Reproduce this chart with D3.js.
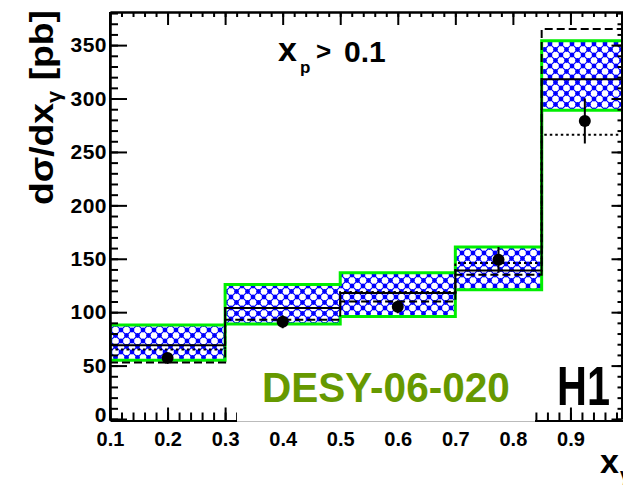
<!DOCTYPE html>
<html><head><meta charset="utf-8">
<script src="https://cdn.jsdelivr.net/npm/d3@7"></script>
<style>body{margin:0;background:#fff}svg{display:block}</style>
</head><body><svg id="c" width="623" height="491"></svg>
<script>
// ---- data ----
const binEdges   = [0.1, 0.3, 0.5, 0.7, 0.85, 1.0];
const dataX      = [0.2, 0.4, 0.6, 0.775, 0.925];
const dataY      = [57, 91, 105, 149, 279];
const dataErr    = [4, 6, 6, 12, 21];
const bandLow    = [55, 89, 96, 121, 289];
const bandHigh   = [88, 126, 137, 161, 354];
const solidLine  = [69, 104, 118, 139, 318];
const dottedLine = [65, 104, 119, 146, 266];
const dashedLine = [53, 93, 110, 135, 365];
const xMajorTicks = [0.1, 0.2, 0.3, 0.4, 0.5, 0.6, 0.7, 0.8, 0.9];
const yMajorTicks = [0, 50, 100, 150, 200, 250, 300, 350];
const xMinorStep = 0.02, yMinorStep = 10;

const svg = d3.select("#c");
const L = 110, T = 12, B = 420.5, R = 621.5;
const x = d3.scaleLinear().domain([0.1, 1.0]).range([110, 628]);
const y = d3.scaleLinear().domain([0, 381]).range([419, 12]);

// hatch pattern
const defs = svg.append("defs");
const pat = defs.append("pattern").attr("id", "hatch").attr("patternUnits", "userSpaceOnUse")
  .attr("width", 11).attr("height", 11);
pat.append("rect").attr("width", 11).attr("height", 11).attr("fill", "#fff");
pat.append("path").attr("d", "M0,0L11,11M11,0L0,11").attr("stroke", "#0000ff").attr("stroke-width", 1.2);
[[0,0],[11,0],[0,11],[11,11],[5.5,5.5]].forEach(p =>
  pat.append("circle").attr("cx", p[0]).attr("cy", p[1]).attr("r", 2.4).attr("fill", "#0000ff"));
defs.append("clipPath").attr("id", "clip").append("rect")
  .attr("x", L).attr("y", T).attr("width", R - L).attr("height", B - T);

const plot = svg.append("g").attr("clip-path", "url(#clip)");
const bins = d3.range(binEdges.length - 1);

// hatched band
plot.selectAll("rect.band").data(bins).join("rect").attr("class", "band")
  .attr("x", i => x(binEdges[i])).attr("width", i => x(binEdges[i + 1]) - x(binEdges[i]))
  .attr("y", i => y(bandHigh[i])).attr("height", i => y(bandLow[i]) - y(bandHigh[i]))
  .attr("fill", "url(#hatch)");

function stepPts(vals) {
  const pts = [];
  vals.forEach((v, i) => { pts.push([binEdges[i], v]); pts.push([binEdges[i + 1], v]); });
  return pts;
}
const line = d3.line().x(d => x(d[0])).y(d => y(d[1]));

// green band edges
const g0 = [[binEdges[0], bandLow[0]], [binEdges[0], bandHigh[0]]];
plot.append("path").attr("d", line(g0)).attr("fill", "none").attr("stroke", "#00ee00").attr("stroke-width", 3);
plot.append("path").attr("d", line(stepPts(bandHigh))).attr("fill", "none").attr("stroke", "#00ee00").attr("stroke-width", 3);
plot.append("path").attr("d", line(stepPts(bandLow))).attr("fill", "none").attr("stroke", "#00ee00").attr("stroke-width", 3);

// theory lines
plot.append("path").attr("d", line(stepPts(solidLine))).attr("fill", "none").attr("stroke", "#000").attr("stroke-width", 2);
plot.append("path").attr("d", line(stepPts(dottedLine))).attr("fill", "none").attr("stroke", "#000").attr("stroke-width", 2).attr("stroke-dasharray", "2.5,3");
plot.append("path").attr("d", line(stepPts(dashedLine))).attr("fill", "none").attr("stroke", "#000").attr("stroke-width", 2).attr("stroke-dasharray", "8,4");

// data
plot.selectAll("line.err").data(bins).join("line").attr("class", "err")
  .attr("x1", i => x(dataX[i])).attr("x2", i => x(dataX[i]))
  .attr("y1", i => y(dataY[i] - dataErr[i])).attr("y2", i => y(dataY[i] + dataErr[i]))
  .attr("stroke", "#000").attr("stroke-width", 2);
plot.selectAll("circle.pt").data(bins).join("circle").attr("class", "pt")
  .attr("cx", i => x(dataX[i])).attr("cy", i => y(dataY[i])).attr("r", 6).attr("fill", "#000");

// axes
const xMinor = d3.range(0.1, 1.0001, xMinorStep);
const yMinor = d3.range(0, 381, yMinorStep);
const fmtX = d3.format(".1f");
const axStyle = g => { g.select(".domain").attr("stroke-width", 2); g.selectAll(".tick line").attr("stroke-width", 2); };
const FF = "Liberation Sans, Arial, sans-serif";

svg.append("g").attr("transform", `translate(0,${B})`)
  .call(d3.axisBottom(x).tickValues(xMinor).tickSize(-8).tickSizeOuter(0).tickFormat(""))
  .call(axStyle);
const xb = svg.append("g").attr("transform", `translate(0,${B})`)
  .call(d3.axisBottom(x).tickValues(xMajorTicks).tickSize(-13).tickSizeOuter(0).tickPadding(11).tickFormat(fmtX))
  .call(axStyle);
xb.select(".domain").remove();
xb.selectAll("text").attr("font-family", FF).attr("font-size", 20).attr("font-weight", "bold").attr("fill", "#000");

svg.append("g").attr("transform", `translate(0,${T})`)
  .call(d3.axisTop(x).tickValues(xMinor).tickSize(-5).tickSizeOuter(0).tickFormat("")).call(axStyle);
svg.append("g").attr("transform", `translate(0,${T})`)
  .call(d3.axisTop(x).tickValues(xMajorTicks).tickSize(-13).tickSizeOuter(0).tickFormat("")).call(axStyle);

svg.append("g").attr("transform", `translate(${L},0)`)
  .call(d3.axisLeft(y).tickValues(yMinor).tickSize(-8).tickSizeOuter(0).tickFormat("")).call(axStyle);
const yl = svg.append("g").attr("transform", `translate(${L},0)`)
  .call(d3.axisLeft(y).tickValues(yMajorTicks).tickSize(-17).tickSizeOuter(0).tickPadding(3)).call(axStyle);
yl.selectAll("text").attr("font-family", FF).attr("font-size", 21).attr("font-weight", "bold").attr("letter-spacing", "0.5").attr("fill", "#000");
yl.selectAll(".tick").filter(d => d === 0).select("text").attr("dy", "0.1em");
svg.append("line").attr("x1", L).attr("x2", L).attr("y1", T).attr("y2", B).attr("stroke", "#000").attr("stroke-width", 2);

svg.append("g").attr("transform", `translate(${R},0)`)
  .call(d3.axisRight(y).tickValues(yMinor).tickSize(-4).tickSizeOuter(0).tickFormat("")).call(axStyle);
svg.append("g").attr("transform", `translate(${R},0)`)
  .call(d3.axisRight(y).tickValues(yMajorTicks).tickSize(-10).tickSizeOuter(0).tickFormat("")).call(axStyle);

// label box covering part of the bottom axis
svg.append("rect").attr("x", 237).attr("y", 366).attr("width", 298).attr("height", 55.5).attr("fill", "#fff");
svg.append("line").attr("x1", 237).attr("x2", 535).attr("y1", 421.5).attr("y2", 421.5).attr("stroke", "#bbb").attr("stroke-width", 1);

svg.append("text").attr("transform", "translate(262,402) scale(0.965,1)").attr("font-family", FF).attr("font-weight", "bold")
  .attr("font-size", 42).attr("fill", "#669900")
  .text("DESY-06-020");
svg.append("text").attr("transform", "translate(557,405) scale(0.74,1)").attr("font-family", FF).attr("font-weight", "bold")
  .attr("font-size", 56).attr("fill", "#000")
  .text("H1");

// x_p > 0.1
const t1 = svg.append("text").attr("font-family", FF).attr("font-weight", "bold").attr("fill", "#000");
t1.append("tspan").attr("x", 278).attr("y", 61).attr("font-size", 34).text("x");
t1.append("tspan").attr("x", 300).attr("y", 73).attr("font-size", 17).text("p");
t1.append("tspan").attr("x", 316).attr("y", 60).attr("font-size", 26).text(">");
t1.append("tspan").attr("x", 344).attr("y", 62).attr("font-size", 30).text("0.1");

// y title
const yt = svg.append("text").attr("transform", "translate(53,205) rotate(-90)")
  .attr("font-family", FF).attr("font-weight", "bold").attr("fill", "#000")
  .attr("textLength", 195).attr("lengthAdjust", "spacingAndGlyphs");
yt.append("tspan").attr("font-size", 34).text("dσ/dx");
yt.append("tspan").attr("font-size", 20).attr("dy", 8).text("γ");
yt.append("tspan").attr("font-size", 34).attr("dy", -8).text(" [pb]");

// x title
const xt = svg.append("text").attr("font-family", FF).attr("font-weight", "bold").attr("fill", "#000");
xt.append("tspan").attr("x", 600).attr("y", 473).attr("font-size", 34).text("x");
xt.append("tspan").attr("x", 620).attr("y", 481).attr("font-size", 18).text("γ");
</script></body></html>
